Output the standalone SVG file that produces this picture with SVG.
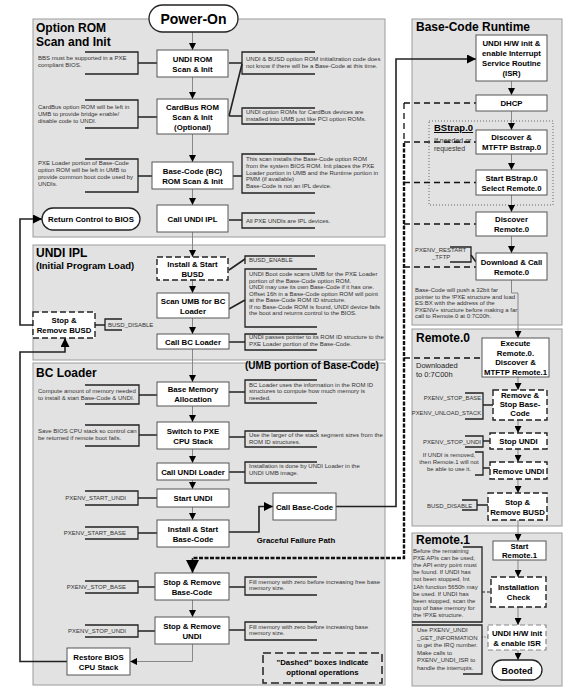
<svg xmlns="http://www.w3.org/2000/svg" width="584" height="699" viewBox="0 0 584 699">
<defs>
<style>
text{font-family:"Liberation Sans",Arial,Helvetica,sans-serif}
.panel{fill:#e2e2e2;stroke:#9c9c9c;stroke-width:1}
.box{fill:#fff;stroke:#555;stroke-width:1}
.dbox{fill:#fff;stroke:#222;stroke-width:1.4;stroke-dasharray:6 3}
.lbox{fill:#fff;stroke:#888;stroke-width:1.2;stroke-dasharray:5 3}
.pill{fill:#fff;stroke:#222;stroke-width:1.3}
.b{font-weight:bold;font-size:7.8px;text-anchor:middle;fill:#000}
.h{font-weight:bold;font-size:12px;fill:#000}
.n{font-size:6px;fill:#333}
.nr{font-size:6px;fill:#333;text-anchor:end}
.nc{font-size:6px;fill:#333;text-anchor:middle}
.br{fill:none;stroke:#222;stroke-width:1.3}
.ln{fill:none;stroke:#888;stroke-width:1}
.cn{fill:none;stroke:#222;stroke-width:1.6}
.dl{fill:none;stroke:#111;stroke-width:1.3;stroke-dasharray:6 4}
.tk{fill:none;stroke:#111;stroke-width:2.4;stroke-dasharray:4 1.5}
</style>
<marker id="a" viewBox="0 0 8 8" refX="8" refY="4" markerWidth="7" markerHeight="7" markerUnits="userSpaceOnUse" orient="auto"><path d="M0,0L8,4L0,8z" fill="#000"/></marker>
<marker id="m" viewBox="0 0 8 8" refX="8" refY="4" markerWidth="9" markerHeight="9" markerUnits="userSpaceOnUse" orient="auto"><path d="M0,0L8,4L0,8z" fill="#000"/></marker>
<marker id="A" viewBox="0 0 8 8" refX="8" refY="4" markerWidth="13" markerHeight="13" markerUnits="userSpaceOnUse" orient="auto"><path d="M0,0L8,4L0,8z" fill="#000"/></marker>
</defs>
<rect width="584" height="699" fill="#fff"/>

<g id="panels">
<rect class="panel" x="33" y="19" width="352" height="218"/>
<rect class="panel" x="33" y="245" width="352" height="115"/>
<rect class="panel" x="33" y="363" width="352" height="322"/>
<rect class="panel" x="412" y="19" width="150" height="306"/>
<rect class="panel" x="412" y="329" width="150" height="197"/>
<rect class="panel" x="412" y="533" width="150" height="153"/>
<text class="h" x="36" y="32">Option ROM</text>
<text class="h" x="36" y="46">Scan and Init</text>
<text class="h" x="36" y="257">UNDI IPL</text>
<text class="h" x="36" y="269" style="font-size:9.5px">(Initial Program Load)</text>
<text class="h" x="36" y="377">BC Loader</text>
<text class="h" x="245" y="369" style="font-size:10px">(UMB portion of Base-Code)</text>
<text class="h" x="416" y="31">Base-Code Runtime</text>
<text class="h" x="416" y="342">Remote.0</text>
<text class="h" x="416" y="544">Remote.1</text>
<rect x="429" y="121" width="124" height="84" fill="none" stroke="#666" stroke-width="1" stroke-dasharray="1 2"/>
<text x="434" y="131" style="font-size:9.5px;font-weight:bold" text-decoration="underline">BStrap.0</text>
<text x="434" y="143" style="font-size:7px;fill:#333">If needed or</text>
<text x="434" y="151" style="font-size:7px;fill:#333">requested</text>
<text x="416" y="368" style="font-size:7.5px;fill:#222">Downloaded</text>
<text x="416" y="377" style="font-size:7.5px;fill:#222">to 0:7C00h</text>
<text class="b" x="296" y="543">Graceful Failure Path</text>
</g>

<g id="connectors">
<path class="ln" d="M192.5,32V50" marker-end="url(#a)"/>
<path class="ln" d="M192.5,77V99" marker-end="url(#a)"/>
<path class="ln" d="M192.5,134V162" marker-end="url(#a)"/>
<path class="ln" d="M192.5,189V205" marker-end="url(#a)"/>
<path class="ln" d="M192.5,232V257" marker-end="url(#a)"/>
<path class="ln" d="M192.5,280V293" marker-end="url(#a)"/>
<path class="ln" d="M192.5,318V334" marker-end="url(#a)"/>
<path class="ln" d="M192.5,349V382" marker-end="url(#a)"/>
<path class="ln" d="M192.5,406V422" marker-end="url(#a)"/>
<path class="ln" d="M192.5,449V463" marker-end="url(#a)"/>
<path class="ln" d="M192.5,480V489" marker-end="url(#a)"/>
<path class="ln" d="M192.5,507V520" marker-end="url(#a)"/>
<path class="ln" d="M192.5,600V617" marker-end="url(#a)"/>
<path class="ln" d="M192.5,644V661.5H130" marker-end="url(#a)"/>
<path class="ln" d="M511.5,81V95" marker-end="url(#a)"/>
<path class="ln" d="M511.5,111V130" marker-end="url(#a)"/>
<path class="ln" d="M511.5,154V170" marker-end="url(#a)"/>
<path class="ln" d="M511.5,195V212" marker-end="url(#a)"/>
<path class="ln" d="M511.5,236V253" marker-end="url(#a)"/>
<path class="ln" d="M511.5,280V293H518V338" marker-end="url(#a)"/>
<path class="ln" d="M518,377V390" marker-end="url(#a)"/>
<path class="ln" d="M518,420V433" marker-end="url(#a)"/>
<path class="ln" d="M518,449V462" marker-end="url(#a)"/>
<path class="ln" d="M518,479V493" marker-end="url(#a)"/>
<path class="ln" d="M518,520V541" marker-end="url(#a)"/>
<path class="ln" d="M518,560V577" marker-end="url(#a)"/>
<path class="ln" d="M518,607V625" marker-end="url(#a)"/>
<path class="ln" d="M518,650V660" marker-end="url(#a)"/>
<path class="cn" d="M229,532H259V506.5H273" marker-end="url(#m)"/>
<path class="cn" d="M336,506.5H396V59H476" marker-end="url(#m)"/>
<path class="cn" d="M67,661.5H20V352H65V338" marker-end="url(#m)"/>
<path class="cn" d="M33,325H20V219H42" marker-end="url(#m)"/>
<path class="dl" d="M404,103V143"/>
<path class="tk" d="M404,143V558H192.5"/>
<path class="cn" d="M192.5,558V573" marker-end="url(#A)"/>
<path class="dl" d="M404,103H476M404,142H476M404,182.5H476M404,224H476M404,267H476M404,358H482"/>
<path class="cn" d="M138,63H157M138,117H157M138,176H152M229,63H242M229,116L242,64M229,116H242M233,176H242M229,220H242M95,325H105M229,270L245,259M229,309L245,300M229,342H245M139,395H157M139,435H157M229,392H245M229,437H245M229,472H245M138,498H157M138,533H157M138,587H155M138,631H155M229,587H245M229,630H245M471,255L476,262M483,405H493M483,441H490M483,468H490M477,505H488"/>
<path fill="none" stroke="#222" stroke-width="1.2" stroke-dasharray="3 2" d="M482,592H491"/>
<path fill="none" stroke="#444" stroke-width="1.2" stroke-dasharray="1 1.5" d="M482,637H488"/>
</g>

<g id="notes">
<path class="br" d="M85,52H138V74H85"/>
<text class="n" x="38" y="60">BBS must be supported in a PXE</text>
<text class="n" x="38" y="67">compliant BIOS.</text>
<path class="br" d="M85,100H138V128H85"/>
<text class="n" x="38" y="109">CardBus option ROM will be left in</text>
<text class="n" x="38" y="116">UMB to provide bridge enable/</text>
<text class="n" x="38" y="123">disable code to UNDI.</text>
<path class="br" d="M85,159H138V192H85"/>
<text class="n" x="38" y="165">PXE Loader portion of Base-Code</text>
<text class="n" x="38" y="172">option ROM will be left in UMB to</text>
<text class="n" x="38" y="179">provide common boot code used by</text>
<text class="n" x="38" y="186">UNDIs.</text>
<path class="br" d="M315,52H242V74H315"/>
<text class="n" x="246" y="61">UNDI &amp; BUSD option ROM initialization code does</text>
<text class="n" x="246" y="68">not know if there will  be a Base-Code at this time.</text>
<path class="br" d="M315,108H242V124H315"/>
<text class="n" x="246" y="114">UNDI option ROMs for CardBus devices are</text>
<text class="n" x="246" y="121">installed into UMB just like PCI option ROMs.</text>
<path class="br" d="M315,154H242V193H315"/>
<text class="n" x="246" y="161">This scan installs the Base-Code option ROM</text>
<text class="n" x="246" y="168">from the system BIOS ROM. Init places the PXE</text>
<text class="n" x="246" y="174.5">Loader portion in UMB and the Runtime portion in</text>
<text class="n" x="246" y="181">PMM (if available)</text>
<text class="n" x="246" y="188">Base-Code is not an IPL device.</text>
<path class="br" d="M315,213H242V228H315"/>
<text class="n" x="246" y="222.5">All PXE UNDIs are IPL devices.</text>
<path class="br" d="M315,256H245V264"/>
<text class="n" x="249" y="262">BUSD_ENABLE</text>
<path class="br" d="M317,269H245V327H317"/>
<text class="n" x="249" y="276">UNDI Boot code scans UMB for  the PXE Loader</text>
<text class="n" x="249" y="282.5">portion of the  Base-Code option ROM.</text>
<text class="n" x="249" y="289">UNDI may use its own Base-Code if it has one.</text>
<text class="n" x="249" y="295.5">Offset 16h in a Base-Code option ROM will point</text>
<text class="n" x="249" y="302">at the Base-Code ROM ID structure.</text>
<text class="n" x="249" y="308.5">If no Base-Code ROM is found, UNDI device fails</text>
<text class="n" x="249" y="315">the boot and returns control to the BIOS.</text>
<path class="br" d="M317,334H245V350H317"/>
<text class="n" x="249" y="339">UNDI passes pointer to its ROM ID structure to the</text>
<text class="n" x="249" y="345.5">PXE Loader portion of the Base-Code.</text>
<path class="br" d="M122,319H105V330H122"/>
<text class="n" x="108" y="327">BUSD_DISABLE</text>
<path class="br" d="M85,385H139V404H85"/>
<text class="n" x="38" y="393">Compute amount of memory needed</text>
<text class="n" x="38" y="399.5">to install &amp; start Base-Code &amp; UNDI.</text>
<path class="br" d="M85,425H139V446H85"/>
<text class="n" x="38" y="433">Save BIOS CPU stack so control can</text>
<text class="n" x="38" y="439.5">be returned if remote boot fails.</text>
<path class="br" d="M317,380H245V403H317"/>
<text class="n" x="249" y="386.5">BC Loader uses the information in the ROM ID</text>
<text class="n" x="249" y="393">structures to compute how much memory is</text>
<text class="n" x="249" y="399.5">needed.</text>
<path class="br" d="M317,431H245V447H317"/>
<text class="n" x="249" y="437">Use the larger of the stack segment sizes from the</text>
<text class="n" x="249" y="443.5">ROM ID structures.</text>
<path class="br" d="M317,462H245V483H317"/>
<text class="n" x="249" y="468">Installation is done by UNDI Loader in the</text>
<text class="n" x="249" y="474.5">UNDI UMB image.</text>
<path class="br" d="M85,491H138V505H85"/>
<text class="nr" x="126" y="500">PXENV_START_UNDI</text>
<path class="br" d="M85,527H138V539H85"/>
<text class="nr" x="126" y="535">PXENV_START_BASE</text>
<path class="br" d="M85,581H138V593H85"/>
<text class="nr" x="126" y="589">PXENV_STOP_BASE</text>
<path class="br" d="M85,625H138V637H85"/>
<text class="nr" x="126" y="633">PXENV_STOP_UNDI</text>
<path class="br" d="M317,577H245V595H317"/>
<text class="n" x="249" y="583.5">Fill memory with zero before increasing free base</text>
<text class="n" x="249" y="590">memory size.</text>
<path class="br" d="M317,622H245V640H317"/>
<text class="n" x="249" y="628.5">Fill memory with zero before increasing base</text>
<text class="n" x="249" y="635">memory size.</text>
<path class="br" d="M450,247H471V262H450"/>
<text class="n" x="415" y="252">PXENV_RESTART</text>
<text class="n" x="432" y="258.5">_TFTP</text>
<text class="n" x="415" y="292">Base-Code will push a 32bit far</text>
<text class="n" x="415" y="298.5">pointer to the !PXE structure and load</text>
<text class="n" x="415" y="305">ES:BX with the address of the</text>
<text class="n" x="415" y="311.5">PXENV+ structure before making a far</text>
<text class="n" x="415" y="318">call to Remote.0 at 0:7C00h.</text>
<path class="br" d="M465,393H483V419H465"/>
<text class="nr" x="481" y="400" style="font-size:5.8px">PXENV_STOP_BASE</text>
<text class="nr" x="481" y="415" style="font-size:5.8px">PXENV_UNLOAD_STACK</text>
<path class="br" d="M465,436H483V447H465"/>
<text class="nr" x="481" y="443.5">PXENV_STOP_UNDI</text>
<path class="br" d="M475,452H483V475H475"/>
<text class="nc" x="449" y="457">If UNDI is removed,</text>
<text class="nc" x="449" y="464">then Remote.1 will not</text>
<text class="nc" x="449" y="471">be able to use it.</text>
<path class="br" d="M462,500H477V510H462"/>
<text class="n" x="427" y="507.5">BUSD_DISABLE</text>
<path class="br" d="M463,547H482V622H412"/>
<text class="n" x="413" y="552.5">Before the remaining</text>
<text class="n" x="413" y="559.7">PXE APIs can be used,</text>
<text class="n" x="413" y="566.9">the API entry point must</text>
<text class="n" x="413" y="574.1">be found.  If UNDI has</text>
<text class="n" x="413" y="581.3">not been stopped, Int</text>
<text class="n" x="413" y="588.5">1Ah function 5650h may</text>
<text class="n" x="413" y="595.7">be used.  If UNDI has</text>
<text class="n" x="413" y="602.9">been stopped, scan the</text>
<text class="n" x="413" y="610.1">top of base memory for</text>
<text class="n" x="413" y="617.3">the !PXE structure.</text>
<path class="br" d="M412,625H482V674H463"/>
<text class="n" x="417" y="632">Use PXENV_UNDI</text>
<text class="n" x="417" y="639.5">_GET_INFORMATION</text>
<text class="n" x="417" y="647">to get the IRQ number.</text>
<text class="n" x="417" y="654.5">Make calls to</text>
<text class="n" x="417" y="662">PXENV_UNDI_ISR to</text>
<text class="n" x="417" y="669.5">handle the interrupts.</text>
</g>

<g id="power-on"><rect class="pill" x="149" y="5" width="89" height="27" rx="13.5"/><text class="b" x="193.5" y="23.5" style="font-size:14px">Power-On</text></g>
<g id="undi-rom"><rect class="box" x="157" y="50" width="71" height="27"/><text class="b" x="192.5" y="61.5">UNDI ROM</text><text class="b" x="192.5" y="71.5">Scan &amp; Init</text></g>
<g id="cardbus"><rect class="box" x="157" y="99" width="71" height="35"/><text class="b" x="192.5" y="109.5">CardBus ROM</text><text class="b" x="192.5" y="119.5">Scan &amp; Init</text><text class="b" x="192.5" y="129.5">(Optional)</text></g>
<g id="base-code-scan"><rect class="box" x="152" y="162" width="81" height="27"/><text class="b" x="192.5" y="173.5">Base-Code (BC)</text><text class="b" x="192.5" y="183.5">ROM Scan &amp; Init</text></g>
<g id="call-undi-ipl"><rect class="box" x="157" y="205" width="71" height="27"/><text class="b" x="192.5" y="221.5">Call UNDI IPL</text></g>
<g id="return-bios"><rect class="pill" x="42" y="208" width="98" height="22" rx="11"/><text class="b" x="91" y="222">Return Control to BIOS</text></g>
<g id="install-busd"><rect class="dbox" x="157" y="257" width="71" height="23"/><text class="b" x="192.5" y="266.5">Install &amp; Start</text><text class="b" x="192.5" y="276.5">BUSD</text></g>
<g id="scan-umb"><rect class="box" x="157" y="293" width="72" height="25"/><text class="b" x="193" y="303.5">Scan UMB for BC</text><text class="b" x="193" y="313.5">Loader</text></g>
<g id="call-bc-loader"><rect class="box" x="157" y="334" width="72" height="15"/><text class="b" x="193" y="344.5">Call BC Loader</text></g>
<g id="stop-busd-left"><rect class="dbox" x="33" y="312" width="62" height="26"/><text class="b" x="64" y="323">Stop &amp;</text><text class="b" x="64" y="333">Remove BUSD</text></g>
<g id="base-mem"><rect class="box" x="157" y="382" width="72" height="24"/><text class="b" x="193" y="392">Base Memory</text><text class="b" x="193" y="402">Allocation</text></g>
<g id="switch-stack"><rect class="box" x="157" y="422" width="72" height="27"/><text class="b" x="193" y="433.5">Switch to PXE</text><text class="b" x="193" y="443.5">CPU Stack</text></g>
<g id="call-undi-loader"><rect class="box" x="157" y="463" width="72" height="17"/><text class="b" x="193" y="474.5">Call UNDI Loader</text></g>
<g id="start-undi"><rect class="box" x="157" y="489" width="72" height="18"/><text class="b" x="193" y="501">Start UNDI</text></g>
<g id="install-base"><rect class="box" x="157" y="520" width="72" height="27"/><text class="b" x="193" y="531.5">Install &amp; Start</text><text class="b" x="193" y="541.5">Base-Code</text></g>
<g id="call-base-code"><rect class="box" x="273" y="493" width="63" height="27"/><text class="b" x="304.5" y="509.5">Call Base-Code</text></g>
<g id="stop-base"><rect class="box" x="155" y="573" width="74" height="27"/><text class="b" x="192" y="584.5">Stop &amp; Remove</text><text class="b" x="192" y="594.5">Base-Code</text></g>
<g id="stop-undi-left"><rect class="box" x="155" y="617" width="74" height="27"/><text class="b" x="192" y="628.5">Stop &amp; Remove</text><text class="b" x="192" y="638.5">UNDI</text></g>
<g id="restore-stack"><rect class="box" x="67" y="648" width="63" height="27"/><text class="b" x="98.5" y="659.5">Restore BIOS</text><text class="b" x="98.5" y="669.5">CPU Stack</text></g>
<g id="legend"><rect x="263" y="653" width="119" height="30" fill="#e2e2e2" stroke="#222" stroke-width="1.5" stroke-dasharray="8 4"/><text class="b" x="322.5" y="665">"Dashed" boxes indicate</text><text class="b" x="322.5" y="675">optional operations</text></g>

<g id="undi-hw-init"><rect class="box" x="476" y="35" width="71" height="46"/><text class="b" x="511.5" y="46">UNDI H/W init &amp;</text><text class="b" x="511.5" y="56">enable Interrupt</text><text class="b" x="511.5" y="66">Service Routine</text><text class="b" x="511.5" y="76">(ISR)</text></g>
<g id="dhcp"><rect class="box" x="476" y="95" width="71" height="16"/><text class="b" x="511.5" y="106">DHCP</text></g>
<g id="discover-bstrap"><rect class="box" x="476" y="130" width="71" height="24"/><text class="b" x="511.5" y="140">Discover &amp;</text><text class="b" x="511.5" y="150">MTFTP Bstrap.0</text></g>
<g id="start-bstrap"><rect class="box" x="476" y="170" width="71" height="25"/><text class="b" x="511.5" y="180.5">Start BStrap.0</text><text class="b" x="511.5" y="190.5">Select Remote.0</text></g>
<g id="discover-remote0"><rect class="box" x="476" y="212" width="71" height="24"/><text class="b" x="511.5" y="222">Discover</text><text class="b" x="511.5" y="232">Remote.0</text></g>
<g id="download-remote0"><rect class="box" x="476" y="253" width="71" height="27"/><text class="b" x="511.5" y="264.5">Download &amp; Call</text><text class="b" x="511.5" y="274.5">Remote.0</text></g>
<g id="execute-remote0"><rect class="box" x="482" y="338" width="67" height="39"/><text class="b" x="515.5" y="346">Execute</text><text class="b" x="515.5" y="355.5">Remote.0.</text><text class="b" x="515.5" y="365">Discover &amp;</text><text class="b" x="515.5" y="374.5">MTFTP Remote.1</text></g>
<g id="remove-stop-base"><rect class="dbox" x="493" y="390" width="54" height="30"/><text class="b" x="520" y="398">Remove &amp;</text><text class="b" x="520" y="407">Stop Base-</text><text class="b" x="520" y="416">Code</text></g>
<g id="stop-undi"><rect class="dbox" x="490" y="433" width="57" height="16"/><text class="b" x="518.5" y="444">Stop UNDI</text></g>
<g id="remove-undi"><rect class="dbox" x="490" y="462" width="57" height="17"/><text class="b" x="518.5" y="473.5">Remove UNDI</text></g>
<g id="stop-busd-right"><rect class="dbox" x="488" y="493" width="59" height="27"/><text class="b" x="517.5" y="504.5">Stop &amp;</text><text class="b" x="517.5" y="514.5">Remove BUSD</text></g>
<g id="start-remote1"><rect class="box" x="493" y="541" width="53" height="19"/><text class="b" x="519.5" y="549">Start</text><text class="b" x="519.5" y="558">Remote.1</text></g>
<g id="install-check"><rect class="dbox" x="491" y="577" width="55" height="30"/><text class="b" x="518.5" y="590">Installation</text><text class="b" x="518.5" y="600">Check</text></g>
<g id="undi-hw-isr"><rect class="lbox" x="488" y="625" width="58" height="25"/><text class="b" x="517" y="635.5">UNDI H/W init</text><text class="b" x="517" y="645.5">&amp; enable ISR</text></g>
<g id="booted"><rect class="pill" x="492" y="660" width="50" height="20" rx="10"/><text class="b" x="517" y="673.5" style="font-size:9px">Booted</text></g>
</svg>
